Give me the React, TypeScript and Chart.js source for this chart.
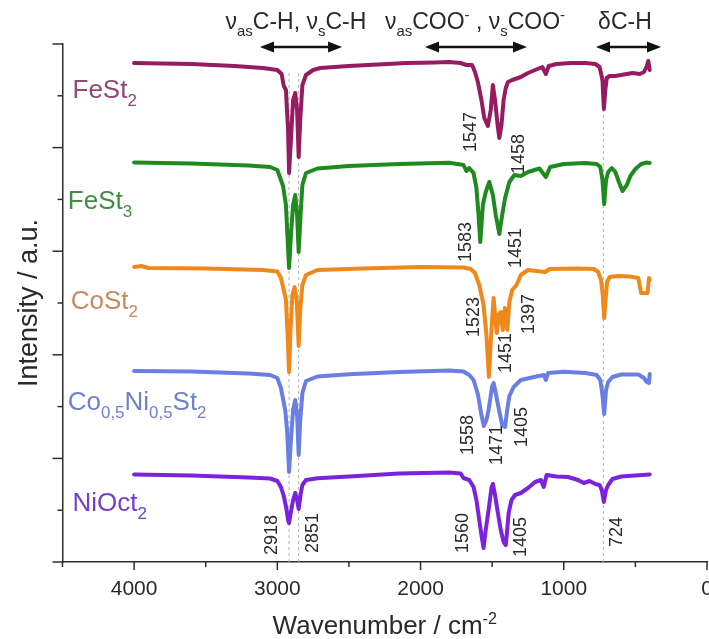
import React, { useEffect, useRef } from "react";
import { Chart, registerables } from "chart.js";

Chart.register(...registerables);

const FONT = "'Liberation Sans', Arial, Helvetica, sans-serif";

// ---- spectra: [wavenumber (cm-1), intensity (a.u., offset stacked)] ----
const feSt2: [number, number][] = [
  [4000, 499], [3600, 498], [3300, 496], [3100, 494], [3000, 492], [2970, 488], [2955, 476], [2940, 472],
  [2925, 432], [2918, 389], [2905, 422], [2890, 462], [2875, 469], [2862, 452], [2851, 405], [2840, 442],
  [2825, 477], [2800, 487], [2750, 492], [2700, 494], [2500, 496], [2300, 497.5], [2100, 499], [1900, 499.5],
  [1800, 500], [1720, 499], [1680, 497], [1640, 497], [1620, 490], [1600, 480], [1575, 462], [1555, 444],
  [1530, 436], [1510, 452], [1495, 477], [1480, 462], [1462, 437], [1450, 424], [1435, 437], [1420, 462],
  [1405, 474], [1390, 480], [1360, 482], [1300, 485], [1250, 489], [1200, 492], [1150, 495], [1125, 488],
  [1105, 496], [1050, 498], [950, 499], [850, 499], [780, 498], [750, 495], [730, 482], [720, 453],
  [710, 472], [700, 484], [680, 486], [640, 486], [580, 487.5], [520, 489], [470, 488], [440, 490],
  [420, 496], [410, 501], [400, 492],
];

const feSt3: [number, number][] = [
  [4000, 399.5], [3600, 398.5], [3200, 396.5], [3050, 395], [3000, 392], [2960, 376], [2940, 357], [2928, 322],
  [2918, 294], [2905, 327], [2890, 357], [2875, 367], [2862, 347], [2851, 310], [2838, 347], [2825, 377],
  [2800, 389], [2720, 393.5], [2500, 396], [2150, 398], [1800, 399.3], [1700, 397], [1680, 391], [1660, 394],
  [1630, 389], [1610, 374], [1595, 347], [1583, 320], [1565, 357], [1545, 370], [1520, 380], [1495, 367],
  [1475, 347], [1450, 328], [1430, 347], [1410, 364], [1380, 380], [1345, 387], [1300, 386], [1250, 390],
  [1170, 393.5], [1125, 385], [1095, 395], [1000, 398], [850, 399], [770, 398], [745, 395], [730, 382],
  [718, 358], [705, 382], [690, 390], [665, 394], [640, 390], [615, 380], [590, 371], [560, 377],
  [535, 386], [500, 393], [460, 398], [420, 399.5], [400, 399],
];

const coSt2: [number, number][] = [
  [4000, 295], [3950, 296], [3900, 294], [3500, 293.5], [3100, 292], [3000, 290.5], [2975, 284], [2955, 272],
  [2940, 262], [2928, 227], [2918, 190], [2908, 232], [2895, 267], [2880, 275], [2865, 262], [2851, 216],
  [2840, 252], [2825, 277], [2800, 287], [2720, 292], [2400, 293.5], [2000, 295], [1700, 294.5], [1650, 293],
  [1620, 289], [1590, 277], [1560, 257], [1540, 227], [1523, 185], [1505, 232], [1490, 264], [1478, 244],
  [1468, 229], [1455, 247], [1440, 250], [1426, 232], [1412, 254], [1394, 232], [1380, 260], [1360, 272],
  [1330, 277], [1300, 287], [1250, 292], [1130, 290], [1100, 293], [900, 293.5], [790, 293], [760, 290],
  [740, 282], [728, 267], [718, 244], [708, 262], [698, 280], [680, 285], [620, 286], [540, 285.5],
  [480, 284], [460, 269], [430, 269], [415, 269], [405, 284], [400, 282],
];

const coNiSt2: [number, number][] = [
  [4000, 191], [3600, 190.5], [3200, 188.5], [3050, 187], [3000, 184], [2975, 174], [2960, 163], [2945, 152],
  [2932, 132], [2918, 90], [2905, 122], [2890, 152], [2875, 162], [2862, 147], [2851, 107], [2840, 142],
  [2825, 169], [2800, 181], [2720, 185.5], [2500, 187.7], [2150, 190], [1800, 191.5], [1700, 190.5], [1660, 187],
  [1630, 182], [1600, 168], [1575, 147], [1558, 136], [1540, 142], [1525, 152], [1500, 176], [1490, 179],
  [1475, 169], [1455, 154], [1430, 137], [1410, 135], [1395, 152], [1380, 166], [1350, 175], [1300, 182],
  [1200, 185.3], [1140, 187], [1125, 182], [1110, 189], [1000, 190.3], [850, 189], [770, 187], [745, 182],
  [730, 167], [718, 148], [705, 172], [690, 180], [660, 185], [600, 187.5], [480, 187.5], [440, 184],
  [420, 180], [405, 179], [400, 188],
];

const niOct2: [number, number][] = [
  [4000, 87.5], [3600, 86.5], [3200, 84.5], [3050, 83.5], [3000, 81], [2975, 75], [2955, 66], [2935, 52],
  [2925, 42], [2918, 39], [2905, 50], [2890, 62], [2875, 69], [2862, 62], [2851, 53], [2838, 67],
  [2825, 77], [2800, 82], [2720, 83.7], [2500, 85.5], [2150, 88.5], [1800, 89.5], [1720, 88.5], [1700, 84],
  [1660, 82], [1630, 75], [1610, 62], [1590, 42], [1575, 27], [1560, 14], [1545, 32], [1525, 52],
  [1505, 74], [1495, 78], [1480, 67], [1460, 49], [1440, 32], [1420, 20], [1405, 17], [1395, 32],
  [1385, 49], [1365, 62], [1340, 67], [1300, 69], [1250, 74], [1200, 80], [1160, 82], [1140, 75],
  [1120, 87], [1050, 85.5], [970, 85], [900, 82], [860, 79], [820, 81], [780, 78], [750, 77],
  [735, 72], [720, 60], [705, 72], [690, 77], [660, 83], [600, 85.5], [500, 86.5], [400, 87.5],
];

const seriesNames = ["FeSt2", "FeSt3", "CoSt2", "Co0,5Ni0,5St2", "NiOct2"];
const seriesData = [feSt2, feSt3, coSt2, coNiSt2, niOct2];
const lineColors = ["#951c62", "#1f8b1f", "#f0891c", "#6a7fe3", "#7b22dc"];
const labelColors = ["#8d4a76", "#3f8f3f", "#c8895b", "#7081cc", "#7a3ccc"];

// series labels: text segments, [wavenumber, intensity] of left baseline
type Seg = { t: string; k?: "sub" | "sup" };
const seriesLabelSegs: Seg[][] = [
  [{ t: "FeSt" }, { t: "2", k: "sub" }],
  [{ t: "FeSt" }, { t: "3", k: "sub" }],
  [{ t: "CoSt" }, { t: "2", k: "sub" }],
  [{ t: "Co" }, { t: "0,5", k: "sub" }, { t: "Ni" }, { t: "0,5", k: "sub" }, { t: "St" }, { t: "2", k: "sub" }],
  [{ t: "NiOct" }, { t: "2", k: "sub" }],
];
const seriesLabelPos: [number, number][] = [
  [4430, 464], [4463, 353], [4443, 253], [4463, 152], [4430, 51],
];

// peak labels: text, wavenumber of centre, intensity of centre
const peakText = ["1547", "1458", "1583", "1451", "1523", "1451", "1397", "1558", "1471", "1405", "2918", "2851", "1560", "1405", "724"];
const peakW = [1648, 1313, 1683, 1334, 1627, 1403, 1243, 1672, 1463, 1288, 3039, 2753, 1701, 1299, 628];
const peakV = [430, 408, 320, 314, 245, 209, 248, 127, 117, 135, 27, 29, 29, 25, 30];

// reference dashed lines
const refLineW = [2918, 2851, 724];
const refLineTop = [489, 489, 453];

// band arrows (wavenumber ranges) and texts
const bandArrowFrom = [3121, 1969, 775];
const bandArrowTo = [2548, 1257, 321];
const bandTextW = [2870, 1620, 573];
const bandSegs: Seg[][] = [
  [{ t: "ν" }, { t: "as", k: "sub" }, { t: "C-H, ν" }, { t: "s", k: "sub" }, { t: "C-H" }],
  [{ t: "ν" }, { t: "as", k: "sub" }, { t: "COO" }, { t: "-", k: "sup" }, { t: " , ν" }, { t: "s", k: "sub" }, { t: "COO" }, { t: "-", k: "sup" }],
  [{ t: "δC-H" }],
];
const bandArrowV = 515;
const bandTextV = 533;

// axis
const X_MIN = 0;
const X_MAX = 4500;
const Y_MIN = 0;
const Y_MAX = 518;
const xMajorTicks = [0, 1000, 2000, 3000, 4000];
const xTickLabels = ["0", "1000", "2000", "3000", "4000"];
const xMinorTicks = [500, 1500, 2500, 3500, 4500];
const yMajorTicks = [0, 103.6, 207.2, 310.8, 414.4, 518];
const yMinorTicks = [51.8, 155.4, 259, 362.6, 466.2];

const AXIS_COLOR = "#2e2e2e";
const TEXT_COLOR = "#2a2a2a";

function drawRich(ctx: CanvasRenderingContext2D, segs: Seg[], x: number, y: number, size: number, color: string, align: "left" | "center", subScale = 0.7) {
  const sub = size * subScale;
  const widths = segs.map((s) => {
    ctx.font = `${s.k ? sub : size}px ${FONT}`;
    return ctx.measureText(s.t).width;
  });
  const total = widths.reduce((a, b) => a + b, 0);
  let cx = align === "center" ? x - total / 2 : x;
  ctx.fillStyle = color;
  ctx.textAlign = "left";
  ctx.textBaseline = "alphabetic";
  segs.forEach((s, i) => {
    ctx.font = `${s.k ? sub : size}px ${FONT}`;
    const dy = s.k === "sub" ? size * 0.3 : s.k === "sup" ? -size * 0.4 : 0;
    ctx.fillText(s.t, cx, y + dy);
    cx += widths[i];
  });
}

function arrow(ctx: CanvasRenderingContext2D, x1: number, x2: number, y: number) {
  const head = 14;
  const hw = 5.5;
  ctx.strokeStyle = "#111";
  ctx.fillStyle = "#111";
  ctx.lineWidth = 2.5;
  ctx.beginPath();
  ctx.moveTo(x1 + head - 2, y);
  ctx.lineTo(x2 - head + 2, y);
  ctx.stroke();
  ctx.beginPath();
  ctx.moveTo(x1, y);
  ctx.lineTo(x1 + head, y - hw);
  ctx.lineTo(x1 + head, y + hw);
  ctx.closePath();
  ctx.fill();
  ctx.beginPath();
  ctx.moveTo(x2, y);
  ctx.lineTo(x2 - head, y - hw);
  ctx.lineTo(x2 - head, y + hw);
  ctx.closePath();
  ctx.fill();
}

const annotPlugin = {
  id: "annot",
  afterDraw(chart: any) {
    const { ctx, chartArea } = chart;
    const xs = chart.scales.x;
    const ys = chart.scales.y;
    ctx.save();
    // ticks
    ctx.strokeStyle = AXIS_COLOR;
    ctx.lineWidth = 1.5;
    const hl = (x1: number, y1: number, x2: number, y2: number) => {
      ctx.beginPath();
      ctx.moveTo(x1, y1);
      ctx.lineTo(x2, y2);
      ctx.stroke();
    };
    xMajorTicks.forEach((v) => { const p = xs.getPixelForValue(v); hl(p, chartArea.bottom, p, chartArea.bottom + 8); });
    xMinorTicks.forEach((v) => { const p = xs.getPixelForValue(v); hl(p, chartArea.bottom, p, chartArea.bottom + 5); });
    yMajorTicks.forEach((v) => { const p = ys.getPixelForValue(v); hl(chartArea.left - 10, p, chartArea.left, p); });
    yMinorTicks.forEach((v) => { const p = ys.getPixelForValue(v); hl(chartArea.left - 5, p, chartArea.left, p); });

    // x tick labels
    ctx.fillStyle = TEXT_COLOR;
    ctx.font = `21px ${FONT}`;
    ctx.textAlign = "center";
    ctx.textBaseline = "middle";
    xMajorTicks.forEach((v, i) => {
      ctx.fillText(xTickLabels[i], xs.getPixelForValue(v), chartArea.bottom + 27);
    });

    // series labels
    seriesLabelSegs.forEach((segs, i) => {
      const [w, v] = seriesLabelPos[i];
      drawRich(ctx, segs, xs.getPixelForValue(w), ys.getPixelForValue(v), 26, labelColors[i], "left", 0.65);
    });

    // peak labels (rotated)
    ctx.fillStyle = TEXT_COLOR;
    ctx.font = `18px ${FONT}`;
    ctx.textAlign = "center";
    ctx.textBaseline = "middle";
    peakText.forEach((t, i) => {
      ctx.save();
      ctx.translate(xs.getPixelForValue(peakW[i]), ys.getPixelForValue(peakV[i]));
      ctx.rotate(-Math.PI / 2);
      ctx.fillText(t, 0, 0);
      ctx.restore();
    });

    // band arrows + texts
    bandArrowFrom.forEach((w1, i) => {
      arrow(ctx, xs.getPixelForValue(w1), xs.getPixelForValue(bandArrowTo[i]), ys.getPixelForValue(bandArrowV));
      drawRich(ctx, bandSegs[i], xs.getPixelForValue(bandTextW[i]), ys.getPixelForValue(bandTextV), 23, TEXT_COLOR, "center", 0.65);
    });

    // x axis title
    const cxm = (chartArea.left + chartArea.right) / 2;
    drawRich(ctx, [{ t: "Wavenumber / cm" }, { t: "-2", k: "sup" }], cxm, 634, 26, TEXT_COLOR, "center", 0.62);
    ctx.restore();
  },
};

export default function App() {
  const ref = useRef<HTMLCanvasElement | null>(null);
  useEffect(() => {
    if (!ref.current) return;
    Chart.defaults.font.family = FONT;
    const datasets: any[] = seriesData.map((d, i) => ({
      label: seriesNames[i],
      data: d.map(([x, y]) => ({ x, y })),
      borderColor: lineColors[i],
      borderWidth: 4,
      pointRadius: 0,
      tension: 0,
      borderJoinStyle: "round",
      borderCapStyle: "round",
      fill: false,
      order: 1,
    }));
    refLineW.forEach((w, i) => {
      datasets.push({
        label: "ref" + w,
        data: [{ x: w, y: Y_MIN }, { x: w, y: refLineTop[i] }],
        borderColor: "#b0b0b0",
        borderWidth: 1,
        borderDash: [3, 3],
        pointRadius: 0,
        fill: false,
        order: 10,
      });
    });
    const chart = new Chart(ref.current, {
      type: "line",
      data: { datasets },
      options: {
        animation: false,
        responsive: false,
        devicePixelRatio: 1,
        layout: { padding: { left: 0, right: 33, top: 44, bottom: 0 } },
        plugins: { legend: { display: false }, tooltip: { enabled: false } },
        scales: {
          x: {
            type: "linear",
            reverse: true,
            min: X_MIN,
            max: X_MAX,
            grid: { display: false, drawTicks: false },
            border: { display: true, color: AXIS_COLOR, width: 1.5 },
            ticks: { display: false },
            afterFit: (s: any) => { s.height = 77; },
          },
          y: {
            type: "linear",
            min: Y_MIN,
            max: Y_MAX,
            grid: { display: false, drawTicks: false },
            border: { display: true, color: AXIS_COLOR, width: 1.5 },
            ticks: { display: false },
            title: {
              display: true,
              text: "Intensity / a.u.",
              color: TEXT_COLOR,
              font: { size: 27, family: FONT },
              padding: { top: 13, bottom: 0 },
            },
            afterFit: (s: any) => { s.width = 62.5; },
          },
        },
      } as any,
      plugins: [annotPlugin],
    });
    return () => chart.destroy();
  }, []);
  return (
    <div style={{ position: "fixed", left: 0, top: 0, width: 709, height: 639, overflow: "hidden", background: "#fff" }}>
      <canvas ref={ref} width={740} height={639} style={{ width: 740, height: 639, display: "block" }} />
    </div>
  );
}
